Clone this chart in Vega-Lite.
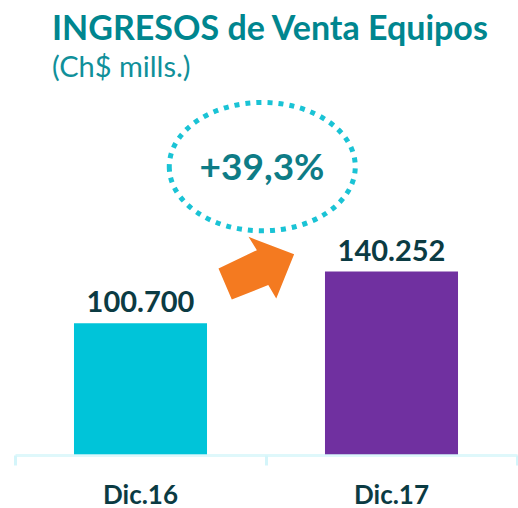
{
  "$schema": "https://vega.github.io/schema/vega-lite/v6.json",
  "width": 502,
  "height": 340,
  "autosize": "none",
  "padding": {"left": 15, "top": 115, "right": 1, "bottom": 53},
  "background": "white",
  "config": {"view": {"stroke": null}, "font": "Lato"},
  "title": {
    "text": "INGRESOS de Venta Equipos",
    "subtitle": "(Ch$ mills.)",
    "anchor": "start",
    "frame": "group",
    "dx": 37,
    "offset": 9,
    "font": "Lato",
    "fontSize": 34,
    "fontWeight": "bold",
    "color": "#00868F",
    "subtitleFont": "Lato",
    "subtitleFontSize": 29,
    "subtitleFontWeight": "normal",
    "subtitleColor": "#10909A",
    "subtitlePadding": 7
  },
  "data": {
    "values": [
      {"periodo": "Dic.16", "ingresos": 100700, "etiqueta": "100.700"},
      {"periodo": "Dic.17", "ingresos": 140252, "etiqueta": "140.252"}
    ]
  },
  "resolve": {"axis": {"x": "independent"}},
  "layer": [
    {
      "mark": {"type": "bar", "width": {"band": 0.53}},
      "encoding": {
        "x": {
          "field": "periodo",
          "type": "nominal",
          "sort": null,
          "scale": {"paddingInner": 0, "paddingOuter": 0},
          "axis": {
            "orient": "bottom",
            "title": null,
            "domain": false,
            "ticks": false,
            "grid": false,
            "labelAngle": 0,
            "labelBaseline": "alphabetic",
            "labelPadding": 48,
            "labelFont": "Lato",
            "labelFontSize": 26,
            "labelFontWeight": "bold",
            "labelColor": "#0B3B43"
          }
        },
        "y": {
          "field": "ingresos",
          "type": "quantitative",
          "scale": {"domain": [0, 255000]},
          "axis": null
        },
        "color": {
          "field": "periodo",
          "type": "nominal",
          "scale": {"domain": ["Dic.16", "Dic.17"], "range": ["#00C4D9", "#7030A0"]},
          "legend": null
        }
      }
    },
    {
      "mark": {"type": "text", "baseline": "alphabetic", "dy": -11, "font": "Lato", "fontSize": 29, "fontWeight": "bold", "color": "#0B3B43"},
      "encoding": {
        "x": {"field": "periodo", "type": "nominal", "sort": null, "axis": null},
        "y": {"field": "ingresos", "type": "quantitative"},
        "text": {"field": "etiqueta"}
      }
    },
    {
      "data": {"values": [{"periodo": "Dic.16", "pos": 220500}]},
      "mark": {
        "type": "point",
        "shape": "M -1.04 0 A 1 0.69 0 1 0 0.96 0 A 1 0.69 0 1 0 -1.04 0 Z",
        "size": 34596,
        "filled": false,
        "stroke": "#1AC3D5",
        "strokeWidth": 5,
        "strokeDash": [5, 6],
        "opacity": 1
      },
      "encoding": {
        "x": {
          "field": "periodo",
          "type": "nominal",
          "sort": null,
          "bandPosition": 1,
          "axis": {
            "orient": "bottom",
            "title": null,
            "labels": false,
            "grid": false,
            "bandPosition": 1,
            "tickExtra": true,
            "domainColor": "#D4F5FA",
            "domainWidth": 3,
            "domainOpacity": 0.75,
            "tickColor": "#D4F5FA",
            "tickWidth": 3,
            "tickSize": 10,
            "zindex": 1
          }
        },
        "y": {"field": "pos", "type": "quantitative"}
      }
    },
    {
      "data": {"values": [{"periodo": "Dic.16", "pos": 219000, "texto": "+39,3%"}]},
      "mark": {"type": "text", "baseline": "middle", "dx": -4, "font": "Lato", "fontSize": 37, "fontWeight": "bold", "color": "#0E7C86"},
      "encoding": {
        "x": {"field": "periodo", "type": "nominal", "sort": null, "bandPosition": 1, "axis": null},
        "y": {"field": "pos", "type": "quantitative"},
        "text": {"field": "texto"}
      }
    },
    {
      "data": {"values": [{"periodo": "Dic.16", "pos": 143000}]},
      "mark": {
        "type": "point",
        "shape": "M -1.25 0.01 L -0.24 -0.47 L -0.46 -0.82 L 0.74 -0.36 L 0.27 0.8 L 0.06 0.45 L -0.9 0.83 Z",
        "size": 5776,
        "filled": true,
        "fill": "#F47A20",
        "opacity": 1,
        "strokeWidth": 0
      },
      "encoding": {
        "x": {"field": "periodo", "type": "nominal", "sort": null, "bandPosition": 1, "axis": null},
        "y": {"field": "pos", "type": "quantitative"}
      }
    }
  ]
}
